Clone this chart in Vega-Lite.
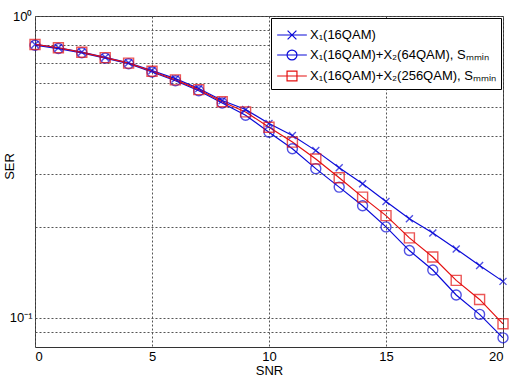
{
  "$schema": "https://vega.github.io/schema/vega-lite/v6.json",
  "width": 468,
  "height": 331,
  "autosize": "none",
  "padding": {"left": 35, "top": 16, "right": 13, "bottom": 34},
  "background": "white",
  "config": {
    "view": {"stroke": "#333333", "strokeWidth": 1},
    "font": "Liberation Sans"
  },
  "datasets": {
    "ser": [
      {"series": "X₁(16QAM)", "snr": 0, "ser": 0.805},
      {"series": "X₁(16QAM)", "snr": 1, "ser": 0.785},
      {"series": "X₁(16QAM)", "snr": 2, "ser": 0.76},
      {"series": "X₁(16QAM)", "snr": 3, "ser": 0.73},
      {"series": "X₁(16QAM)", "snr": 4, "ser": 0.70},
      {"series": "X₁(16QAM)", "snr": 5, "ser": 0.66},
      {"series": "X₁(16QAM)", "snr": 6, "ser": 0.62},
      {"series": "X₁(16QAM)", "snr": 7, "ser": 0.575},
      {"series": "X₁(16QAM)", "snr": 8, "ser": 0.525},
      {"series": "X₁(16QAM)", "snr": 9, "ser": 0.49},
      {"series": "X₁(16QAM)", "snr": 10, "ser": 0.44},
      {"series": "X₁(16QAM)", "snr": 11, "ser": 0.402},
      {"series": "X₁(16QAM)", "snr": 12, "ser": 0.358},
      {"series": "X₁(16QAM)", "snr": 13, "ser": 0.314},
      {"series": "X₁(16QAM)", "snr": 14, "ser": 0.278},
      {"series": "X₁(16QAM)", "snr": 15, "ser": 0.243},
      {"series": "X₁(16QAM)", "snr": 16, "ser": 0.213},
      {"series": "X₁(16QAM)", "snr": 17, "ser": 0.191},
      {"series": "X₁(16QAM)", "snr": 18, "ser": 0.169},
      {"series": "X₁(16QAM)", "snr": 19, "ser": 0.149},
      {"series": "X₁(16QAM)", "snr": 20, "ser": 0.132},
      {"series": "X₁(16QAM)+X₂(64QAM), Sₘₘᵢₙ", "snr": 0, "ser": 0.80},
      {"series": "X₁(16QAM)+X₂(64QAM), Sₘₘᵢₙ", "snr": 1, "ser": 0.78},
      {"series": "X₁(16QAM)+X₂(64QAM), Sₘₘᵢₙ", "snr": 2, "ser": 0.755},
      {"series": "X₁(16QAM)+X₂(64QAM), Sₘₘᵢₙ", "snr": 3, "ser": 0.725},
      {"series": "X₁(16QAM)+X₂(64QAM), Sₘₘᵢₙ", "snr": 4, "ser": 0.695},
      {"series": "X₁(16QAM)+X₂(64QAM), Sₘₘᵢₙ", "snr": 5, "ser": 0.652},
      {"series": "X₁(16QAM)+X₂(64QAM), Sₘₘᵢₙ", "snr": 6, "ser": 0.61},
      {"series": "X₁(16QAM)+X₂(64QAM), Sₘₘᵢₙ", "snr": 7, "ser": 0.565},
      {"series": "X₁(16QAM)+X₂(64QAM), Sₘₘᵢₙ", "snr": 8, "ser": 0.515},
      {"series": "X₁(16QAM)+X₂(64QAM), Sₘₘᵢₙ", "snr": 9, "ser": 0.469},
      {"series": "X₁(16QAM)+X₂(64QAM), Sₘₘᵢₙ", "snr": 10, "ser": 0.412},
      {"series": "X₁(16QAM)+X₂(64QAM), Sₘₘᵢₙ", "snr": 11, "ser": 0.363},
      {"series": "X₁(16QAM)+X₂(64QAM), Sₘₘᵢₙ", "snr": 12, "ser": 0.312},
      {"series": "X₁(16QAM)+X₂(64QAM), Sₘₘᵢₙ", "snr": 13, "ser": 0.271},
      {"series": "X₁(16QAM)+X₂(64QAM), Sₘₘᵢₙ", "snr": 14, "ser": 0.235},
      {"series": "X₁(16QAM)+X₂(64QAM), Sₘₘᵢₙ", "snr": 15, "ser": 0.200},
      {"series": "X₁(16QAM)+X₂(64QAM), Sₘₘᵢₙ", "snr": 16, "ser": 0.167},
      {"series": "X₁(16QAM)+X₂(64QAM), Sₘₘᵢₙ", "snr": 17, "ser": 0.144},
      {"series": "X₁(16QAM)+X₂(64QAM), Sₘₘᵢₙ", "snr": 18, "ser": 0.119},
      {"series": "X₁(16QAM)+X₂(64QAM), Sₘₘᵢₙ", "snr": 19, "ser": 0.1026},
      {"series": "X₁(16QAM)+X₂(64QAM), Sₘₘᵢₙ", "snr": 20, "ser": 0.0858},
      {"series": "X₁(16QAM)+X₂(256QAM), Sₘₘᵢₙ", "snr": 0, "ser": 0.805},
      {"series": "X₁(16QAM)+X₂(256QAM), Sₘₘᵢₙ", "snr": 1, "ser": 0.785},
      {"series": "X₁(16QAM)+X₂(256QAM), Sₘₘᵢₙ", "snr": 2, "ser": 0.758},
      {"series": "X₁(16QAM)+X₂(256QAM), Sₘₘᵢₙ", "snr": 3, "ser": 0.728},
      {"series": "X₁(16QAM)+X₂(256QAM), Sₘₘᵢₙ", "snr": 4, "ser": 0.698},
      {"series": "X₁(16QAM)+X₂(256QAM), Sₘₘᵢₙ", "snr": 5, "ser": 0.656},
      {"series": "X₁(16QAM)+X₂(256QAM), Sₘₘᵢₙ", "snr": 6, "ser": 0.614},
      {"series": "X₁(16QAM)+X₂(256QAM), Sₘₘᵢₙ", "snr": 7, "ser": 0.57},
      {"series": "X₁(16QAM)+X₂(256QAM), Sₘₘᵢₙ", "snr": 8, "ser": 0.52},
      {"series": "X₁(16QAM)+X₂(256QAM), Sₘₘᵢₙ", "snr": 9, "ser": 0.481},
      {"series": "X₁(16QAM)+X₂(256QAM), Sₘₘᵢₙ", "snr": 10, "ser": 0.428},
      {"series": "X₁(16QAM)+X₂(256QAM), Sₘₘᵢₙ", "snr": 11, "ser": 0.382},
      {"series": "X₁(16QAM)+X₂(256QAM), Sₘₘᵢₙ", "snr": 12, "ser": 0.336},
      {"series": "X₁(16QAM)+X₂(256QAM), Sₘₘᵢₙ", "snr": 13, "ser": 0.291},
      {"series": "X₁(16QAM)+X₂(256QAM), Sₘₘᵢₙ", "snr": 14, "ser": 0.251},
      {"series": "X₁(16QAM)+X₂(256QAM), Sₘₘᵢₙ", "snr": 15, "ser": 0.218},
      {"series": "X₁(16QAM)+X₂(256QAM), Sₘₘᵢₙ", "snr": 16, "ser": 0.184},
      {"series": "X₁(16QAM)+X₂(256QAM), Sₘₘᵢₙ", "snr": 17, "ser": 0.159},
      {"series": "X₁(16QAM)+X₂(256QAM), Sₘₘᵢₙ", "snr": 18, "ser": 0.133},
      {"series": "X₁(16QAM)+X₂(256QAM), Sₘₘᵢₙ", "snr": 19, "ser": 0.115},
      {"series": "X₁(16QAM)+X₂(256QAM), Sₘₘᵢₙ", "snr": 20, "ser": 0.0955}
    ]
  },
  "data": {"name": "ser"},
  "encoding": {
    "x": {
      "field": "snr",
      "type": "quantitative",
      "scale": {"domain": [0, 20], "nice": false},
      "axis": {
        "values": [0, 5, 10, 15, 20],
        "title": "SNR",
        "grid": true,
        "gridDash": [2, 2],
        "gridColor": "#555555",
        "gridOpacity": 1,
        "gridWidth": 1,
        "domain": false,
        "ticks": false,
        "labelFont": "Liberation Sans",
        "labelFontSize": 13,
        "labelColor": "#000000",
        "labelPadding": 3,
        "titleFont": "Liberation Sans",
        "titleFontSize": 13,
        "titleFontWeight": "normal",
        "titleColor": "#000000",
        "titlePadding": 1
      }
    },
    "y": {
      "field": "ser",
      "type": "quantitative",
      "scale": {"type": "log", "domain": [0.08, 1], "nice": false},
      "axis": {
        "values": [0.09, 0.1, 0.2, 0.3, 0.4, 0.5, 0.6, 0.7, 0.8, 0.9, 1],
        "labelExpr": "datum.value == 1 ? '10⁰' : (datum.value == 0.1 ? '10⁻¹' : '')",
        "labelOverlap": false,
        "title": "SER",
        "titleX": -19,
        "titleY": 150,
        "grid": true,
        "gridDash": [2, 2],
        "gridColor": "#555555",
        "gridOpacity": 1,
        "gridWidth": 1,
        "domain": false,
        "ticks": false,
        "labelFont": "Liberation Sans",
        "labelFontSize": 13,
        "labelColor": "#000000",
        "labelPadding": 3,
        "titleFont": "Liberation Sans",
        "titleFontSize": 13,
        "titleFontWeight": "normal",
        "titleColor": "#000000"
      }
    },
    "color": {
      "field": "series",
      "type": "nominal",
      "scale": {
        "domain": ["X₁(16QAM)", "X₁(16QAM)+X₂(64QAM), Sₘₘᵢₙ", "X₁(16QAM)+X₂(256QAM), Sₘₘᵢₙ"],
        "range": ["#0a0ad8", "#0a0ad8", "#e41010"]
      },
      "legend": {
        "title": null,
        "orient": "top-right",
        "offset": 2,
        "padding": 5,
        "strokeColor": "#000000",
        "fillColor": "#ffffff",
        "labelFont": "Liberation Sans",
        "labelFontSize": 13,
        "labelColor": "#000000",
        "labelLimit": 400,
        "labelOffset": 6,
        "symbolSize": 484,
        "symbolOffset": 4,
        "symbolStrokeWidth": 1.2,
        "rowPadding": 1,
        "encode": {
          "symbols": {
            "update": {
              "shape": {"signal": "datum.value == 'X₁(16QAM)' ? 'M-1.35,0H1.35M-0.4,-0.4L0.4,0.4M-0.4,0.4L0.4,-0.4' : (indexof(datum.value, '64QAM') >= 0 ? 'M-1.35,0H1.35M-0.45,0A0.45,0.45,0,1,1,0.45,0A0.45,0.45,0,1,1,-0.45,0' : 'M-1.35,0H1.35M-0.45,-0.45H0.45V0.45H-0.45Z')"},
              "fill": {"value": "transparent"},
              "strokeWidth": {"value": 1.2}
            }
          }
        }
      }
    }
  },
  "layer": [
    {
      "mark": {"type": "line", "strokeWidth": 1.2}
    },
    {
      "transform": [{"filter": "datum.series == 'X₁(16QAM)'"}],
      "mark": {"type": "point", "filled": false, "strokeWidth": 1.4, "size": 100, "shape": "M-0.7,-0.7L0.7,0.7M-0.7,0.7L0.7,-0.7"}
    },
    {
      "transform": [{"filter": "indexof(datum.series, '64QAM') >= 0"}],
      "mark": {"type": "point", "filled": false, "strokeWidth": 1.4, "size": 100, "shape": "circle"}
    },
    {
      "transform": [{"filter": "indexof(datum.series, '256QAM') >= 0"}],
      "mark": {"type": "point", "filled": false, "strokeWidth": 1.4, "size": 100, "shape": "square"}
    }
  ]
}
